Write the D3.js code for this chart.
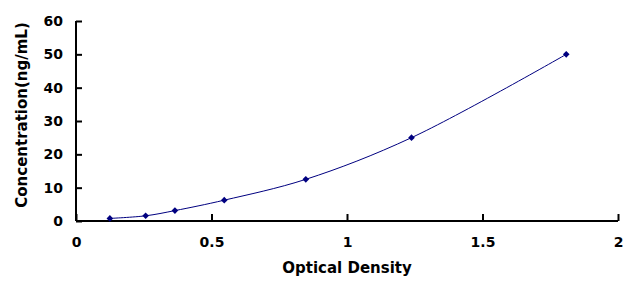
<!DOCTYPE html>
<html>
<head>
    <meta charset="utf-8">
    <title>Standard Curve</title>
    <script src="https://d3js.org/d3.v7.min.js"></script>
    <style>
        body { margin: 0; background: #fff; }
        text { font-family: "DejaVu Sans", sans-serif; font-weight: bold; }
    </style>
</head>
<body>
<div id="chart"></div>
<script>
    // data
    var od = [0.125, 0.257, 0.365, 0.547, 0.848, 1.238, 1.809];
    var conc = [0.78, 1.56, 3.12, 6.25, 12.5, 25, 50];
    var xTicks = [0, 0.5, 1, 1.5, 2];
    var yTicks = [0, 10, 20, 30, 40, 50, 60];

    var width = 633, height = 284;
    var margin = {top: 21, right: 15, bottom: 63, left: 76};

    var svg = d3.select("#chart").append("svg")
        .attr("width", width)
        .attr("height", height);

    var x = d3.scaleLinear().domain([0, 2]).range([margin.left, width - margin.right]);
    var y = d3.scaleLinear().domain([0, 60]).range([height - margin.bottom, margin.top]);

    // x axis, ticks pointing into the plot
    var xAxis = svg.append("g")
        .attr("transform", "translate(0," + y(0) + ")")
        .call(d3.axisBottom(x).tickValues(xTicks).tickSize(-7).tickPadding(16).tickFormat(d3.format("")));
    xAxis.select(".domain").attr("stroke-width", 2).attr("d", "M" + x(0) + ",0H" + x(2));
    xAxis.selectAll(".tick line").attr("stroke-width", 2);
    xAxis.selectAll("text").attr("font-size", 14).attr("fill", "#000");

    // y axis
    var yAxis = svg.append("g")
        .attr("transform", "translate(" + x(0) + ",0)")
        .call(d3.axisLeft(y).tickValues(yTicks).tickSize(-6).tickPadding(13));
    yAxis.select(".domain").attr("stroke-width", 2).attr("d", "M0," + y(0) + "V" + y(60));
    yAxis.selectAll(".tick line").attr("stroke-width", 2);
    yAxis.selectAll("text").attr("font-size", 14).attr("fill", "#000");

    // axis titles
    svg.append("text")
        .attr("x", (x(0) + x(2)) / 2)
        .attr("y", 273)
        .attr("text-anchor", "middle")
        .attr("font-size", 15)
        .text("Optical Density");

    svg.append("text")
        .attr("transform", "translate(27,115) rotate(-90)")
        .attr("text-anchor", "middle")
        .attr("font-size", 15)
        .text("Concentration(ng/mL)");

    var pts = od.map(function(d, i) { return [d, conc[i]]; });

    // smoothed curve
    var line = d3.line()
        .x(function(d) { return x(d[0]); })
        .y(function(d) { return y(d[1]); })
        .curve(d3.curveCatmullRom.alpha(0.5));

    svg.append("path")
        .datum(pts)
        .attr("fill", "none")
        .attr("stroke", "#000080")
        .attr("stroke-width", 1)
        .attr("d", line);

    // diamond markers (square turned 45deg, like excel)
    svg.selectAll(".pt")
        .data(pts)
        .enter()
        .append("path")
        .attr("class", "pt")
        .attr("transform", function(d) { return "translate(" + x(d[0]) + "," + y(d[1]) + ") rotate(45)"; })
        .attr("d", d3.symbol().type(d3.symbolSquare).size(22))
        .attr("fill", "#000080");
</script>
</body>
</html>
